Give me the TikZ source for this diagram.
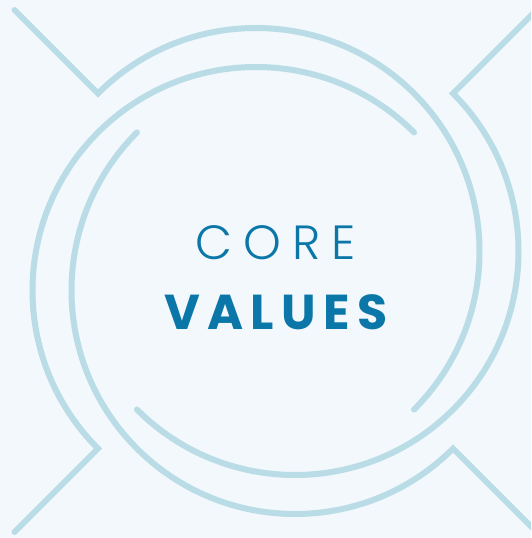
\documentclass[tikz,border=0pt]{standalone}
\usepackage{fontspec}
\newfontfamily\corelight{Poppins Light}[LetterSpace=23]
\newfontfamily\corebold{Poppins}[UprightFont=* Bold,LetterSpace=15]
\definecolor{bgpale}{HTML}{F2F8FB}
\definecolor{ringblue}{HTML}{B9DCE6}
\definecolor{titleblue}{HTML}{0B77A8}
\tikzset{
	ring/.style={line width=6pt, ringblue, line cap=round, line join=miter},
	title/.style={titleblue, anchor=base, inner sep=0pt}
}
\begin{document}
\begin{tikzpicture}[x=1pt, y=1pt]
		\fill[bgpale] (0,0) rectangle (531,538);
		\useasboundingbox (0,0) rectangle (531,538);
		\clip (0,0) rectangle (531,538);
		\coordinate (ca) at (256,286.5);
		\coordinate (cb) at (256,247.5);
		\coordinate (cc) at (295,247.5);
		\coordinate (cd) at (295,286.5);
		\draw[ring] ([shift={(135:341.5)}]ca) -- ([shift={(135:223.5)}]ca) arc[start angle=135, end angle=-45, radius=223.5];
		\draw[ring] ([shift={(45:341.5)}]cd) -- ([shift={(45:223.5)}]cd) arc[start angle=45, end angle=-135, radius=223.5];
		\draw[ring] ([shift={(45:223.5)}]cb) arc[start angle=45, end angle=225, radius=223.5] -- ([shift={(225:341.5)}]cb);
		\draw[ring] ([shift={(135:223.5)}]cc) arc[start angle=135, end angle=315, radius=223.5] -- ([shift={(315:341.5)}]cc);
		\node[title, font=\corelight\fontsize{48}{48}\selectfont] (core) at (276,278) {CORE};
		\node[title, font=\corebold\fontsize{49}{49}\selectfont] (values) at (276,208) {VALUES};
	\end{tikzpicture}
\end{document}
